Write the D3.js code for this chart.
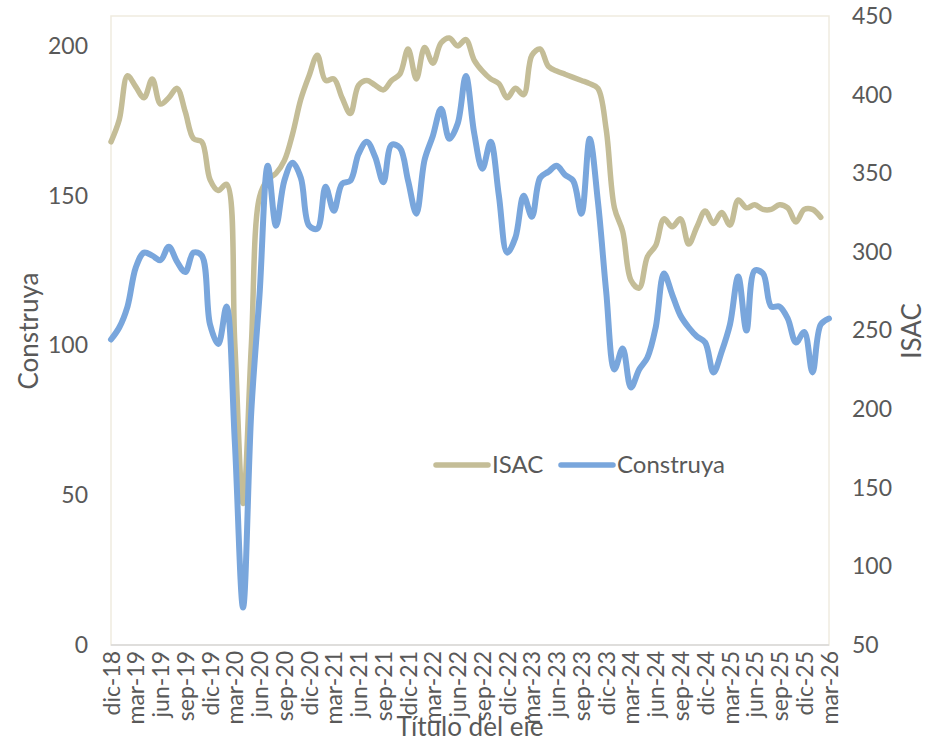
<!DOCTYPE html>
<html>
<head>
<meta charset="utf-8">
<script src="https://cdn.jsdelivr.net/npm/d3@7"></script>
<style>
  body { margin: 0; background: #fff; }
  text { font-family: Lato, "Noto Sans", sans-serif; fill: #595959; }
</style>
</head>
<body>
<script>
// months from dic-18 to mar-26
const months = [
  "dic-18",
  "ene-19","feb-19","mar-19","abr-19","may-19","jun-19","jul-19","ago-19","sep-19","oct-19","nov-19","dic-19",
  "ene-20","feb-20","mar-20","abr-20","may-20","jun-20","jul-20","ago-20","sep-20","oct-20","nov-20","dic-20",
  "ene-21","feb-21","mar-21","abr-21","may-21","jun-21","jul-21","ago-21","sep-21","oct-21","nov-21","dic-21",
  "ene-22","feb-22","mar-22","abr-22","may-22","jun-22","jul-22","ago-22","sep-22","oct-22","nov-22","dic-22",
  "ene-23","feb-23","mar-23","abr-23","may-23","jun-23","jul-23","ago-23","sep-23","oct-23","nov-23","dic-23",
  "ene-24","feb-24","mar-24","abr-24","may-24","jun-24","jul-24","ago-24","sep-24","oct-24","nov-24","dic-24",
  "ene-25","feb-25","mar-25","abr-25","may-25","jun-25","jul-25","ago-25","sep-25","oct-25","nov-25","dic-25",
  "ene-26","feb-26","mar-26"
];

// ISAC (right axis), ends at feb-26
const isac = [
  370,
  384, 412, 405, 398, 410, 394, 398, 404, 389, 372, 370, 346,
  339, 343, 242, 140, 240, 335, 346, 350, 358, 375, 397, 412,
  425, 409, 410, 398, 388, 406, 409, 406, 403, 409, 413, 429,
  410, 430, 420, 433, 436, 431, 435, 422, 415, 410, 407, 398,
  404, 400, 425, 429, 418, 415, 413, 411, 409, 407, 404, 378,
  328, 313, 282, 277, 297, 304, 321, 316, 321, 305, 316, 326,
  318, 325, 317, 333, 328, 330, 327, 327, 330, 328, 319, 327,
  327, 322
];

// Construya (left axis)
const construya = [
  102,
  106, 113, 126, 131, 130, 128.5, 133, 128, 124.5, 131, 130, 107,
  100.5, 113, 68, 12.5, 78, 117, 160, 140, 155, 161, 156, 140,
  139, 153, 145, 154, 155, 164, 168, 163, 154.5, 167, 166, 155,
  144, 162, 170, 179, 169, 174, 190, 171, 159, 168, 150, 131,
  136, 150, 143, 156, 158, 160, 157, 155, 144, 169, 148, 118,
  92, 99, 86, 92, 96, 106, 124, 117, 110, 106, 103, 101,
  91, 98, 107, 123, 105, 125, 124, 113, 113, 109, 101, 104.5,
  91, 107, 109
];

const leftTicks = [0, 50, 100, 150, 200];
const rightTicks = [50, 100, 150, 200, 250, 300, 350, 400, 450];
const xTickLabels = months.filter((d, i) => i % 3 === 0);

const width = 939;
const height = 736;
const plot = { left: 111, right: 829, top: 16, bottom: 645 };

const svg = d3.select("body").append("svg")
  .attr("width", width)
  .attr("height", height);

const x = d3.scalePoint().domain(months).range([plot.left, plot.right]);
const yLeft = d3.scaleLinear().domain([0, 210]).range([plot.bottom, plot.top]);
const yRight = d3.scaleLinear().domain([50, 450]).range([plot.bottom, plot.top]);

// plot frame
svg.append("rect")
  .attr("x", plot.left)
  .attr("y", plot.top)
  .attr("width", plot.right - plot.left)
  .attr("height", plot.bottom - plot.top)
  .attr("fill", "none")
  .attr("stroke", "#efebe0")
  .attr("stroke-width", 1.5);

svg.append("line")
  .attr("x1", plot.left).attr("x2", plot.right)
  .attr("y1", plot.bottom).attr("y2", plot.bottom)
  .attr("stroke", "#d9d9d9")
  .attr("stroke-width", 1.5);

// axes
const leftAxis = svg.append("g")
  .attr("transform", `translate(${plot.left},0)`)
  .call(d3.axisLeft(yLeft).tickValues(leftTicks).tickSize(0).tickPadding(23));

const rightAxis = svg.append("g")
  .attr("transform", `translate(${plot.right},0)`)
  .call(d3.axisRight(yRight).tickValues(rightTicks).tickSize(0).tickPadding(23));

const xAxis = svg.append("g")
  .attr("transform", `translate(0,${plot.bottom})`)
  .call(d3.axisBottom(x).tickValues(xTickLabels).tickSize(0));

[leftAxis, rightAxis, xAxis].forEach(g => {
  g.select(".domain").remove();
  g.selectAll("text").style("font-size", "23px").attr("fill", "#595959");
});

xAxis.selectAll("text")
  .attr("transform", "rotate(-90)")
  .attr("text-anchor", "end")
  .attr("x", -6)
  .attr("y", 0)
  .attr("dy", "0.35em");

// axis titles
svg.append("text")
  .attr("transform", "translate(38,331) rotate(-90)")
  .attr("text-anchor", "middle")
  .style("font-size", "26px")
  .text("Construya");

svg.append("text")
  .attr("transform", "translate(921,331) rotate(-90)")
  .attr("text-anchor", "middle")
  .style("font-size", "26px")
  .text("ISAC");

svg.append("text")
  .attr("x", 470)
  .attr("y", 736)
  .attr("text-anchor", "middle")
  .style("font-size", "26px")
  .text("Título del eje");

// lines
const isacLine = d3.line()
  .x((d, i) => x(months[i]))
  .y(d => yRight(d))
  .curve(d3.curveCatmullRom);

const construyaLine = d3.line()
  .x((d, i) => x(months[i]))
  .y(d => yLeft(d))
  .curve(d3.curveCatmullRom);

svg.append("path")
  .datum(isac)
  .attr("d", isacLine)
  .attr("fill", "none")
  .attr("stroke", "#c4bd97")
  .attr("stroke-width", 5.5)
  .attr("stroke-linecap", "round")
  .attr("stroke-linejoin", "round");

svg.append("path")
  .datum(construya)
  .attr("d", construyaLine)
  .attr("fill", "none")
  .attr("stroke", "#79a6dc")
  .attr("stroke-width", 6)
  .attr("stroke-linecap", "round")
  .attr("stroke-linejoin", "round");

// legend
const legendItems = [
  { name: "ISAC", color: "#c4bd97", x: 436 },
  { name: "Construya", color: "#79a6dc", x: 561 }
];

const legend = svg.append("g").attr("transform", "translate(0,465)");

legend.selectAll("line")
  .data(legendItems)
  .enter()
  .append("line")
  .attr("x1", d => d.x)
  .attr("x2", d => d.x + 52)
  .attr("y1", 0)
  .attr("y2", 0)
  .attr("stroke", d => d.color)
  .attr("stroke-width", 5.5)
  .attr("stroke-linecap", "round");

legend.selectAll("text")
  .data(legendItems)
  .enter()
  .append("text")
  .attr("x", d => d.x + 56)
  .attr("y", 0)
  .attr("dy", "0.35em")
  .style("font-size", "24px")
  .text(d => d.name);
</script>
</body>
</html>
